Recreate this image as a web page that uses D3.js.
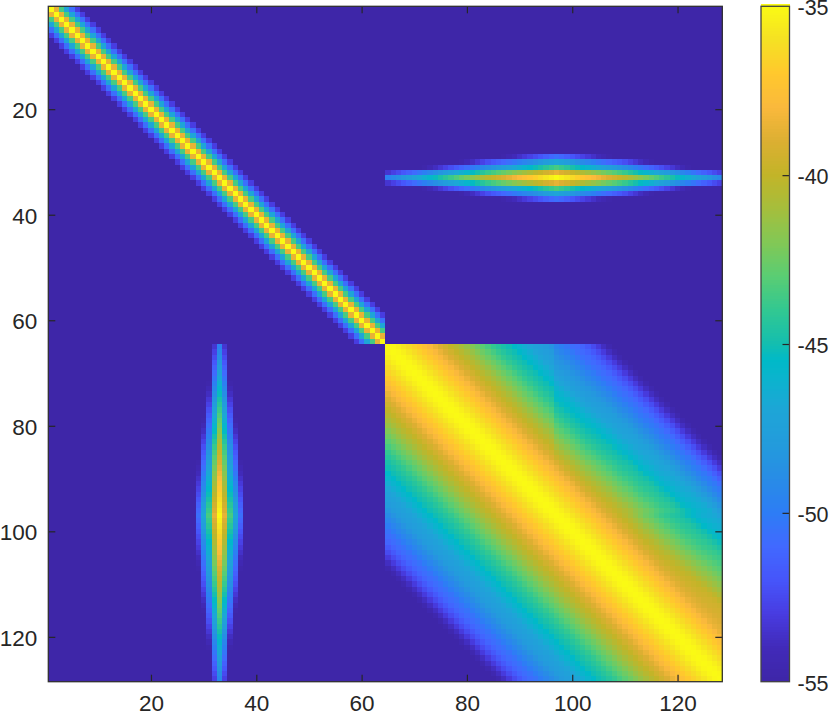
<!DOCTYPE html>
<html>
<head>
<meta charset="utf-8">
<script src="https://cdn.jsdelivr.net/npm/d3@7"></script>
<style>
  html, body { margin: 0; padding: 0; background: #fff; }
  text { font-family: "Liberation Sans", sans-serif; font-size: 22.5px; fill: #262626; }
  .barAxis text { font-size: 21.5px; }
</style>
</head>
<body>
<div id="chart"></div>
<script>
var WIDTH = 830, HEIGHT = 716;
var PLOT_LEFT = 48.3, PLOT_RIGHT = 722.3, PLOT_TOP = 6.3, PLOT_BOTTOM = 681.7;
var BAR_LEFT = 761, BAR_RIGHT = 789.5;

var FLOOR = -55;
var cellIds = d3.range(1, 129);
var axisTicks = [20, 40, 60, 80, 100, 120];
var barTicks = [-35, -40, -45, -50, -55];

// parula as it looks on this colorbar
var cmapValues = [-55, -54, -53, -52, -51, -50, -49, -48, -47, -46, -45.5, -45, -44, -43, -42, -41, -40, -39, -38, -37, -36, -35];
var cmapColors = ["#3e26a8", "#412ab9", "#483ce1", "#4655fa", "#4169ff", "#2d7df5", "#288ce6", "#239bdc", "#1ea5d7", "#0ab4cd", "#00b9c8", "#14beaf", "#32c891", "#5acd73", "#82c855", "#a5be3c", "#c3b428", "#dcaf32", "#fab93c", "#ffc82d", "#f5e123", "#fafa14"];

// top left block, dB by distance from the diagonal
var diagProfile = [-35, -38.6, -43.5, -47, -50.7, -53];

// off diagonal blocks: ridge level along block index 65..128, drop by distance from the ridge
var ridgeLevels = [-49.8, -49.3, -48.8, -48.3, -47.8, -47.3, -46.8, -46.3, -45.8, -45.3, -44.8, -44.3, -43.8, -43.3, -42.8, -42.3,
  -41.8, -41.3, -40.8, -40.3, -39.9, -39.5, -39.1, -38.7, -38.3, -37.9, -37.5, -37.1, -36.7, -36.3, -35.8, -35.4,
  -35, -35.4, -35.8, -36.3, -36.7, -37.1, -37.5, -37.9, -38.3, -38.7, -39.1, -39.5, -39.9, -40.3, -40.8, -41.3,
  -41.8, -42.3, -42.8, -43.3, -43.8, -44.3, -44.8, -45.3, -45.8, -46.3, -46.8, -47.3, -47.8, -48.3, -48.8, -49.3];
var ridgeDrop = [0, 3.6, 8.5, 12, 15.7];
var RIDGE_INDEX = 33;

// bottom right block, dB by distance from the diagonal
var blockProfile = [-35, -35.1, -35.4, -35.8, -36.2, -36.6, -37, -37.5, -38, -38.5, -39, -39.5, -40, -40.4, -40.9, -41.4,
  -42, -42.5, -43, -43.5, -44, -44.4, -44.8, -45.1, -45.5, -46, -46.5, -47, -47.4, -47.7, -48, -48.5,
  -49, -49.5, -50, -50.5, -50.8, -51.2, -51.8, -52.4, -53.1, -53.8, -54.6];
// upper right quarter of that block (rows 65..96, columns 97..128), added per column
var crossTilt = [-0.6, -0.55, -0.5, -0.45, -0.4, -0.35, -0.3, -0.2, -0.1, 0, 0.1, 0.15, 0.2, 0.3, 0.4, 0.45,
  0.5, 0.6, 0.7, 0.75, 0.8, 0.9, 1, 1.05, 1.1, 1.2, 1.3, 1.35, 1.4, 1.45, 1.5, 1.5];
// bottom right quarter above the diagonal (columns 97..128), added per column
var cornerTilt = [0, 0, 0, 0, 0, 0, 0, 0, 0, 0, 0, 0, 0, 0, 0, 0,
  0, 0, 0.1, 0.15, 0.2, 0.3, 0.4, 0.5, 0.6, 0.7, 0.8, 0.9, 1, 1.1, 1.2, 1.3];
var tiltWeight = [0, 0, 0, 0, 0, 0, 0, 0, 0, 0, 0.2, 0.4, 0.6, 0.8, 1, 1, 1, 1, 1, 1, 1, 1, 1, 1, 1, 1, 1, 1, 1, 1, 1, 0.9,
  0.8, 0.7, 0.6, 0.5, 0.4, 0.3, 0.2, 0.1, 0, 0, 0];

var color = d3.scaleLinear().domain(cmapValues).range(cmapColors).clamp(true);

function cellValue(r, c) {
  var v, off;
  if (r <= 64 && c <= 64) {
    v = diagProfile[Math.abs(r - c)];
  } else if (r > 64 && c > 64) {
    off = Math.abs(r - c);
    v = blockProfile[off];
    if (v !== undefined && c > 96 && r < c) {
      v += (r <= 96 ? crossTilt[c - 97] : cornerTilt[c - 97]) * tiltWeight[off];
    }
  } else if (r <= 64) {
    v = ridgeDrop[Math.abs(r - RIDGE_INDEX)] === undefined ? FLOOR : ridgeLevels[c - 65] - ridgeDrop[Math.abs(r - RIDGE_INDEX)];
  } else {
    v = ridgeDrop[Math.abs(c - RIDGE_INDEX)] === undefined ? FLOOR : ridgeLevels[r - 65] - ridgeDrop[Math.abs(c - RIDGE_INDEX)];
  }
  return v === undefined ? FLOOR : Math.max(v, FLOOR);
}

var cells = [];
cellIds.forEach(function(r) {
  cellIds.forEach(function(c) {
    cells.push({ r: r, c: c, v: cellValue(r, c) });
  });
});

var svg = d3.select("#chart").append("svg")
    .attr("width", WIDTH)
    .attr("height", HEIGHT);

var xBand = d3.scaleBand().domain(cellIds).range([PLOT_LEFT, PLOT_RIGHT]);
var yBand = d3.scaleBand().domain(cellIds).range([PLOT_TOP, PLOT_BOTTOM]);
var xAxisScale = d3.scaleLinear().domain([0.5, 128.5]).range([PLOT_LEFT, PLOT_RIGHT]);
var yAxisScale = d3.scaleLinear().domain([0.5, 128.5]).range([PLOT_TOP, PLOT_BOTTOM]);
var barScale = d3.scaleLinear().domain([-55, -35]).range([PLOT_BOTTOM, PLOT_TOP]);

svg.append("g")
    .attr("shape-rendering", "crispEdges")
  .selectAll("rect")
    .data(cells)
    .enter()
    .append("rect")
      .attr("x", function(d) { return xBand(d.c); })
      .attr("y", function(d) { return yBand(d.r); })
      .attr("width", xBand.bandwidth() + 0.5)
      .attr("height", yBand.bandwidth() + 0.5)
      .attr("fill", function(d) { return color(d.v); });

// colorbar
var barSteps = d3.range(0, 256).map(function(i) { return -55 + i * 20 / 255; });
svg.append("g")
    .attr("shape-rendering", "crispEdges")
  .selectAll("rect")
    .data(barSteps)
    .enter()
    .append("rect")
      .attr("x", BAR_LEFT)
      .attr("y", function(d) { return Math.min(barScale(d + 20 / 255), PLOT_BOTTOM - 3); })
      .attr("width", BAR_RIGHT - BAR_LEFT)
      .attr("height", (PLOT_BOTTOM - PLOT_TOP) / 256 + 1)
      .attr("fill", function(d) { return color(d); });

function styleAxis(g) {
  g.select(".domain").remove();
  g.selectAll("line").attr("stroke", "#262626").attr("stroke-width", 1.2);
  g.selectAll("text").attr("fill", "#262626");
}

var TICK_LEN = 7;

svg.append("g")
    .attr("transform", "translate(" + PLOT_LEFT + ",0)")
    .call(d3.axisLeft(yAxisScale).tickValues(axisTicks).tickSize(-TICK_LEN).tickPadding(11))
    .call(styleAxis)
    .selectAll("text")
      .attr("dy", "0.37em");
svg.append("g")
    .attr("transform", "translate(" + PLOT_RIGHT + ",0)")
    .call(d3.axisRight(yAxisScale).tickValues(axisTicks).tickSize(-TICK_LEN).tickFormat(""))
    .call(styleAxis);
svg.append("g")
    .attr("transform", "translate(0," + PLOT_BOTTOM + ")")
    .call(d3.axisBottom(xAxisScale).tickValues(axisTicks).tickSize(-TICK_LEN).tickPadding(13.6))
    .call(styleAxis);
svg.append("g")
    .attr("transform", "translate(0," + PLOT_TOP + ")")
    .call(d3.axisTop(xAxisScale).tickValues(axisTicks).tickSize(-TICK_LEN).tickFormat(""))
    .call(styleAxis);
var barAxis = svg.append("g")
    .attr("class", "barAxis")
    .attr("transform", "translate(" + BAR_RIGHT + ",0)")
    .call(d3.axisRight(barScale).tickValues(barTicks).tickSize(-TICK_LEN).tickPadding(8).tickFormat(function(d) { return String(d); }))
    .call(styleAxis);
barAxis.selectAll("line")
    .attr("opacity", function(d) { return d === -35 || d === -55 ? 0 : 1; });
barAxis.selectAll("text")
    .attr("dy", "0.39em");

svg.append("rect")
    .attr("x", PLOT_LEFT)
    .attr("y", PLOT_TOP)
    .attr("width", PLOT_RIGHT - PLOT_LEFT)
    .attr("height", PLOT_BOTTOM - PLOT_TOP)
    .attr("fill", "none")
    .attr("stroke", "#333333")
    .attr("stroke-width", 1.3);
svg.append("rect")
    .attr("x", BAR_LEFT)
    .attr("y", PLOT_TOP)
    .attr("width", BAR_RIGHT - BAR_LEFT)
    .attr("height", PLOT_BOTTOM - PLOT_TOP)
    .attr("fill", "none")
    .attr("stroke", "#444444")
    .attr("stroke-width", 1.3);
</script>
</body>
</html>
